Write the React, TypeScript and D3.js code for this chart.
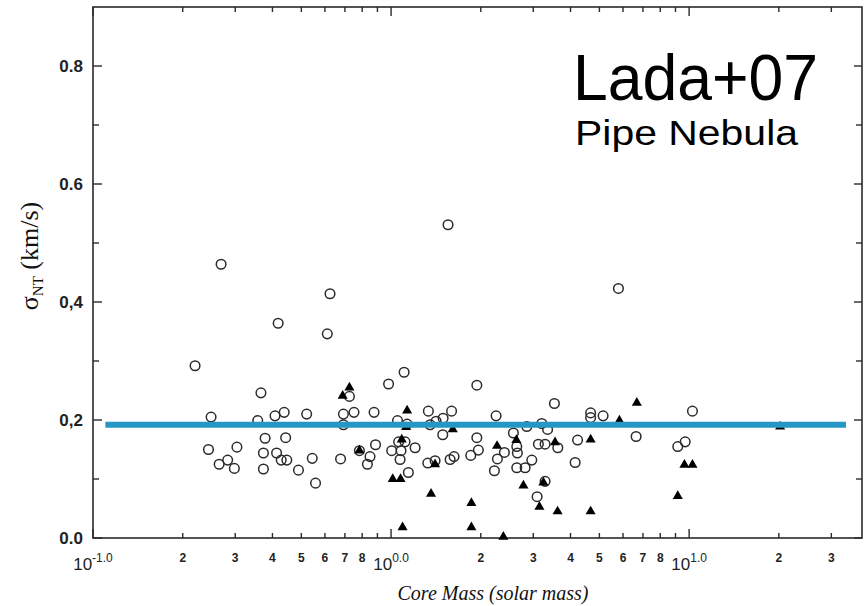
import React from "react";
import * as d3 from "d3";

// Open circles: core mass (solar mass) and sigma_NT (km/s)
const circleMass = [
  0.220, 0.269, 0.418, 0.366, 0.249, 0.357, 0.408, 0.438, 0.244, 0.304,
  0.265, 0.283, 0.298, 0.378, 0.443, 0.373, 0.413, 0.428, 0.447, 0.373,
  0.489, 0.521, 0.692, 0.692, 0.544, 0.558, 0.677, 0.611, 0.624, 1.106,
  0.981, 1.94, 0.725, 0.751, 0.877, 1.051, 1.132, 1.334, 1.596, 1.352,
  1.416, 1.495, 2.251, 3.532, 0.783, 0.850, 0.833, 0.887, 1.005, 1.06,
  1.114, 1.072, 1.080, 1.204, 1.143, 1.328, 1.405, 1.491, 1.578, 1.627,
  1.851, 1.94, 1.963, 2.222, 2.274, 2.40, 2.573, 2.641, 2.653, 2.641,
  2.817, 2.966, 2.854, 3.204, 3.351, 3.121, 3.287, 3.626, 3.287, 3.09,
  4.225, 4.145, 4.672, 4.672, 5.145, 5.792, 6.64, 9.16, 9.70, 10.26,
  1.553,
];
const circleSigma = [
  0.292, 0.464, 0.364, 0.246, 0.205, 0.199, 0.207, 0.213, 0.150, 0.154,
  0.125, 0.132, 0.118, 0.169, 0.170, 0.144, 0.144, 0.132, 0.132, 0.117,
  0.115, 0.210, 0.210, 0.192, 0.135, 0.093, 0.134, 0.346, 0.414, 0.281,
  0.261, 0.259, 0.240, 0.213, 0.213, 0.199, 0.193, 0.215, 0.215, 0.192,
  0.198, 0.203, 0.207, 0.228, 0.148, 0.138, 0.125, 0.158, 0.148, 0.163,
  0.163, 0.133, 0.148, 0.153, 0.111, 0.127, 0.131, 0.175, 0.133, 0.138,
  0.140, 0.170, 0.149, 0.114, 0.134, 0.145, 0.178, 0.155, 0.144, 0.119,
  0.119, 0.132, 0.189, 0.194, 0.184, 0.159, 0.159, 0.153, 0.096, 0.070,
  0.166, 0.128, 0.212, 0.204, 0.207, 0.423, 0.172, 0.155, 0.163, 0.215,
  0.531,
];

// Filled triangles
const triMass = [
  0.725, 0.688, 1.132, 1.123, 1.611, 0.783, 1.405, 1.013, 1.076, 1.362,
  1.093, 1.860, 1.860, 2.381, 2.268, 2.633, 2.78, 3.244, 3.146, 3.62,
  3.55, 6.676, 5.836, 4.672, 4.672, 9.643, 10.26, 9.16, 20.2, 1.086,
];
const triSigma = [
  0.255, 0.241, 0.216, 0.188, 0.184, 0.148, 0.125, 0.100, 0.100, 0.075,
  0.018, 0.059, 0.018, 0.002, 0.156, 0.166, 0.089, 0.094, 0.053, 0.045,
  0.162, 0.229, 0.199, 0.167, 0.045, 0.124, 0.124, 0.071, 0.189, 0.167,
];

// Mean line
const meanSigma = 0.192;
const meanMassRange = [0.11, 33.6];

// Axis ticks
const yMajorTicks = [0, 0.2, 0.4, 0.6, 0.8];
const yMajorLabels = ["0.0", "0,2", "0,4", "0.6", "0.8"];
const yMinorTicks = [0.1, 0.3, 0.5, 0.7];
const xDecades = [0.1, 1, 10];
const xDecadeExp = ["-1.0", "0.0", "1.0"];
const xMinorTicks = [0.2, 0.3, 0.4, 0.5, 0.6, 0.7, 0.8, 0.9, 2, 3, 4, 5, 6, 7, 8, 9, 20, 30];
const xMinorLabels = ["2", "3", "4", "5", "6", "7", "8", "", "2", "3", "4", "5", "6", "7", "8", "", "2", "3"];

export default function App() {
  const W = 867, H = 606;
  const left = 93, right = 862, top = 7, bottom = 538;
  const x = d3.scaleLog().domain([0.1, Math.pow(10, 1.58)]).range([left, right]);
  const y = d3.scaleLinear().domain([0, 0.9]).range([bottom, top]);
  const tri = d3.symbol().type(d3.symbolTriangle).size(44)();
  const axisColor = "#2a2a2a";
  const sans = "'Liberation Sans', Arial, Helvetica, sans-serif";
  const serif = "'Liberation Serif', 'Times New Roman', serif";

  return (
    <svg width={W} height={H} style={{ position: "absolute", left: 0, top: 0, background: "#fff" }}>
      <rect x={0} y={0} width={W} height={H} fill="#fff" />
      {/* frame */}
      <rect x={left} y={top} width={right - left} height={bottom - top} fill="none" stroke={axisColor} strokeWidth={1.6} />
      {/* y ticks */}
      {yMajorTicks.map((v, i) => (
        <g key={"ym" + i}>
          <line x1={left} x2={left + 9} y1={y(v)} y2={y(v)} stroke={axisColor} strokeWidth={1.4} />
          <line x1={right} x2={right - 8} y1={y(v)} y2={y(v)} stroke={axisColor} strokeWidth={1.4} />
          <text x={83} y={y(v) + 6} textAnchor="end" fontFamily={sans} fontWeight="bold" fontSize={17} fill="#222">
            {yMajorLabels[i]}
          </text>
        </g>
      ))}
      {yMinorTicks.map((v, i) => (
        <g key={"yn" + i}>
          <line x1={left} x2={left + 6} y1={y(v)} y2={y(v)} stroke={axisColor} strokeWidth={1.4} />
          <line x1={right} x2={right - 6} y1={y(v)} y2={y(v)} stroke={axisColor} strokeWidth={1.4} />
        </g>
      ))}
      {/* x ticks */}
      {xDecades.map((v, i) => (
        <g key={"xd" + i}>
          <line x1={x(v)} x2={x(v)} y1={bottom} y2={bottom - 9} stroke={axisColor} strokeWidth={1.4} />
          <line x1={x(v)} x2={x(v)} y1={top} y2={top + 9} stroke={axisColor} strokeWidth={1.4} />
          <text x={x(v)} y={570} textAnchor="middle" fontFamily={sans} fontSize={17} fill="#222">
            <tspan>10</tspan>
            <tspan fontSize={12} dy={-8}>{xDecadeExp[i]}</tspan>
          </text>
        </g>
      ))}
      {xMinorTicks.map((v, i) => (
        <g key={"xn" + i}>
          <line x1={x(v)} x2={x(v)} y1={bottom} y2={bottom - 5} stroke={axisColor} strokeWidth={1.4} />
          <line x1={x(v)} x2={x(v)} y1={top} y2={top + 5} stroke={axisColor} strokeWidth={1.4} />
          {xMinorLabels[i] && (
            <text x={x(v)} y={562} textAnchor="middle" fontFamily={sans} fontWeight="bold" fontSize={12} fill="#222">
              {xMinorLabels[i]}
            </text>
          )}
        </g>
      ))}
      {/* axis titles */}
      <text x={493} y={600} textAnchor="middle" fontFamily={serif} fontStyle="italic" fontSize={20} fill="#111">
        Core Mass (solar mass)
      </text>
      <text transform="translate(38,256) rotate(-90)" textAnchor="middle" fontFamily={serif} fontSize={26} fill="#111">
        <tspan>σ</tspan>
        <tspan fontSize={15} dy={5}>NT</tspan>
        <tspan dy={-5}> (km/s)</tspan>
      </text>
      {/* points */}
      {circleMass.map((m, i) => (
        <circle key={"c" + i} cx={x(m)} cy={y(circleSigma[i])} r={4.8} fill="none" stroke="#2b2b2b" strokeWidth={1.5} />
      ))}
      {triMass.map((m, i) => (
        <path key={"t" + i} d={tri} transform={`translate(${x(m)},${y(triSigma[i])})`} fill="#000" />
      ))}
      {/* mean line */}
      <line x1={x(meanMassRange[0])} x2={x(meanMassRange[1])} y1={y(meanSigma)} y2={y(meanSigma)} stroke="#2497c4" strokeWidth={6} />
      {/* annotation */}
      <text x={573} y={100} fontFamily={sans} fontSize={64} fill="#000" textLength={245} lengthAdjust="spacingAndGlyphs">
        Lada+07
      </text>
      <text x={575} y={145} fontFamily={sans} fontSize={35} fill="#000" textLength={223} lengthAdjust="spacingAndGlyphs">
        Pipe Nebula
      </text>
    </svg>
  );
}
